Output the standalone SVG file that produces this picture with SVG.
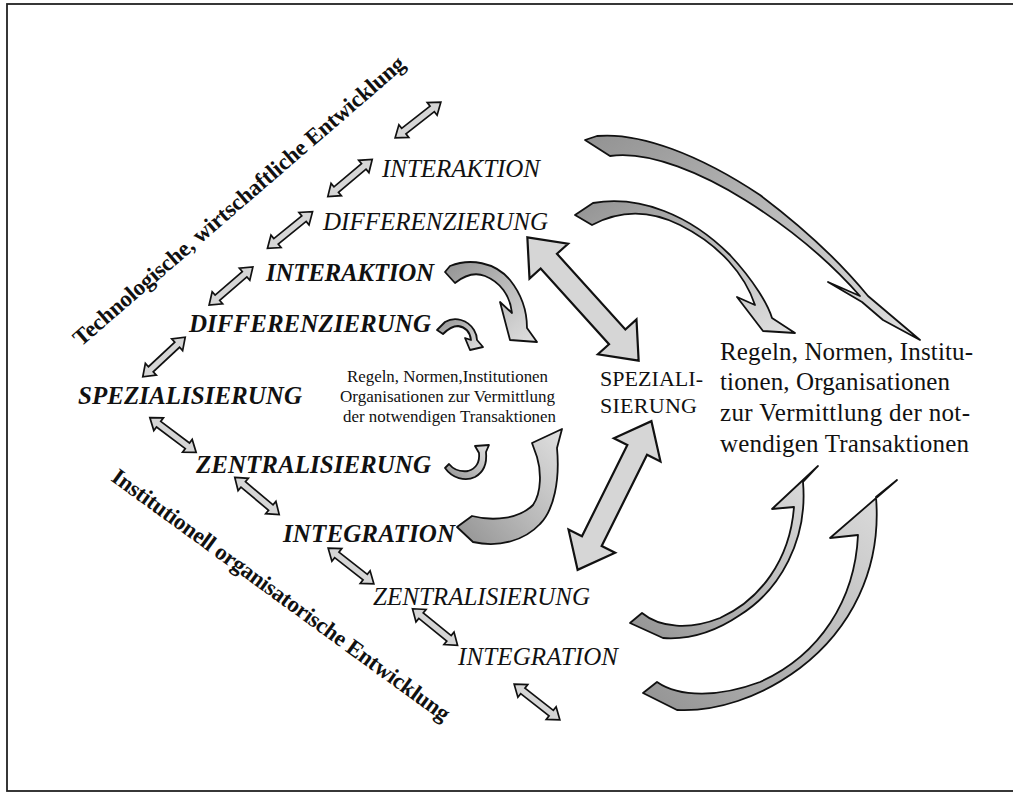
<svg xmlns="http://www.w3.org/2000/svg" width="1013" height="793" viewBox="0 0 1013 793">
<defs>
<style>
.bi{font-family:"Liberation Serif","Times New Roman",serif;font-weight:bold;font-style:italic;font-size:25px;fill:#111}
.it{font-family:"Liberation Serif","Times New Roman",serif;font-style:italic;font-size:25px;fill:#111}
.rg{font-family:"Liberation Serif","Times New Roman",serif;fill:#111}
.rot{font-family:"Liberation Serif","Times New Roman",serif;font-weight:bold;font-size:23px;fill:#111}
.sa{fill:#d6d6d6;stroke:#111;stroke-width:1.7;stroke-linejoin:miter}
.ba{fill:#d6d6d6;stroke:#111;stroke-width:2.2;stroke-linejoin:miter}
.cd{fill:url(#gDown);stroke:#111;stroke-width:1.8;stroke-linejoin:round}
.cu{fill:url(#gUp);stroke:#111;stroke-width:1.8;stroke-linejoin:round}
</style>
<linearGradient id="gDown" x1="0" y1="0" x2="1" y2="1">
<stop offset="0" stop-color="#929292"/><stop offset="0.45" stop-color="#b8b8b8"/><stop offset="1" stop-color="#e0e0e0"/>
</linearGradient>
<linearGradient id="gUp" x1="0" y1="1" x2="1" y2="0">
<stop offset="0" stop-color="#929292"/><stop offset="0.45" stop-color="#b8b8b8"/><stop offset="1" stop-color="#e0e0e0"/>
</linearGradient>
<path id="dbl" d="M -29 0 L -18 -8 L -18 -3.5 L 18 -3.5 L 18 -8 L 29 0 L 18 8 L 18 3.5 L -18 3.5 L -18 8 Z"/>
<path id="big" d="M -83 0 L -51 -26 L -51 -11 L 51 -11 L 51 -26 L 83 0 L 51 26 L 51 11 L -51 11 L -51 26 Z"/>
</defs>
<rect x="0" y="0" width="1013" height="793" fill="#fff"/>
<rect id="frame" x="7" y="4" width="1030" height="787" fill="none" stroke="#222" stroke-width="1.8"/>

<g id="axis-top"><text class="rot" transform="translate(81,347) rotate(-40.8)" textLength="430" lengthAdjust="spacing">Technologische, wirtschaftliche Entwicklung</text></g>
<g id="axis-bottom"><text class="rot" transform="translate(110,480) rotate(36)" textLength="412" lengthAdjust="spacing">Institutionell organisatorische Entwicklung</text></g>

<g id="n-interaktion-b"><text class="bi" x="266" y="281" textLength="168" lengthAdjust="spacing">INTERAKTION</text></g>
<g id="n-differenzierung-b"><text class="bi" x="189" y="332" textLength="242" lengthAdjust="spacing">DIFFERENZIERUNG</text></g>
<g id="n-spezialisierung-b"><text class="bi" x="78" y="404" textLength="224" lengthAdjust="spacing">SPEZIALISIERUNG</text></g>
<g id="n-zentralisierung-b"><text class="bi" x="196" y="473" textLength="235" lengthAdjust="spacing">ZENTRALISIERUNG</text></g>
<g id="n-integration-b"><text class="bi" x="283" y="542" textLength="172" lengthAdjust="spacing">INTEGRATION</text></g>

<g id="n-interaktion-i"><text class="it" x="382" y="177" textLength="158" lengthAdjust="spacing">INTERAKTION</text></g>
<g id="n-differenzierung-i"><text class="it" x="323" y="230" textLength="225" lengthAdjust="spacing">DIFFERENZIERUNG</text></g>
<g id="n-zentralisierung-i"><text class="it" x="373" y="605" textLength="217" lengthAdjust="spacing">ZENTRALISIERUNG</text></g>
<g id="n-integration-i"><text class="it" x="458" y="665" textLength="160" lengthAdjust="spacing">INTEGRATION</text></g>

<g id="n-regeln-small">
<text class="rg" font-size="16.5" x="347" y="382" textLength="201" lengthAdjust="spacingAndGlyphs">Regeln, Normen,Institutionen</text>
<text class="rg" font-size="16.5" x="340" y="402" textLength="215" lengthAdjust="spacingAndGlyphs">Organisationen zur Vermittlung</text>
<text class="rg" font-size="16.5" x="343" y="422" textLength="213" lengthAdjust="spacingAndGlyphs">der notwendigen Transaktionen</text>
</g>
<g id="n-spezialisierung-r">
<text class="rg" font-size="22" x="600" y="386" textLength="103" lengthAdjust="spacing">SPEZIALI-</text>
<text class="rg" font-size="22" x="600" y="413" textLength="97" lengthAdjust="spacing">SIERUNG</text>
</g>
<g id="n-regeln-large">
<text class="rg" font-size="25" x="720" y="360" textLength="253" lengthAdjust="spacing">Regeln, Normen, Institu-</text>
<text class="rg" font-size="25" x="720" y="390" textLength="230" lengthAdjust="spacing">tionen, Organisationen</text>
<text class="rg" font-size="25" x="720" y="421" textLength="250" lengthAdjust="spacing">zur Vermittlung der not-</text>
<text class="rg" font-size="25" x="720" y="452" textLength="249" lengthAdjust="spacing">wendigen Transaktionen</text>
</g>

<g id="connectors">
<use href="#dbl" class="sa" transform="translate(164,357) rotate(-43)"/>
<use href="#dbl" class="sa" transform="translate(231,286) rotate(-41)"/>
<use href="#dbl" class="sa" transform="translate(290,230) rotate(-39)"/>
<use href="#dbl" class="sa" transform="translate(350,178) rotate(-40)"/>
<use href="#dbl" class="sa" transform="translate(418,120) rotate(-38)"/>
<use href="#dbl" class="sa" transform="translate(173,435) rotate(37)"/>
<use href="#dbl" class="sa" transform="translate(257,496) rotate(40)"/>
<use href="#dbl" class="sa" transform="translate(351,566) rotate(38)"/>
<use href="#dbl" class="sa" transform="translate(435,627) rotate(39)"/>
<use href="#dbl" class="sa" transform="translate(537,702) rotate(38)"/>

<use href="#big" class="ba" transform="translate(583,299) rotate(47.9)"/>
<use href="#big" class="ba" transform="translate(614.5,495.5) rotate(-63.6)"/>

<path class="cd" d="M 445,272 L 450,266 C 470,258 495,262 510,280 C 522,295 527,312 527,328 L 537,342 L 510,340 L 500,302 L 512,313 C 510,295 500,282 485,276 C 475,272 465,275 455,283 Z"/>
<path class="cd" d="M 437,330 L 445,322 C 455,316 468,320 474,330 C 477,335 477,338 477,340 L 483,347 L 470,350 L 465,338 L 471,340 C 470,332 465,327 458,326 C 452,326 447,330 443,334 Z"/>
<path class="cu" d="M 445,468 C 452,478 465,482 475,477 C 484,472 487,462 486,452 L 489,445 L 475,446 L 479,453 C 480,462 476,469 468,471 C 460,472 453,469 449,464 Z"/>
<path class="cu" d="M 457,527 L 472,516 C 495,522 520,518 533,505 C 542,492 541,470 537,457 L 532,443 L 562,429 L 557,448 C 560,480 554,510 540,524 C 525,540 500,548 473,542 Z"/>
<path class="cu" d="M 630,623 L 642,613 C 660,628 690,630 720,618 C 760,600 790,560 794,507 L 772,509 L 818,466 L 803,482 C 808,540 780,590 740,615 C 715,632 690,640 663,638 Z"/>
<path class="cu" d="M 643,693 L 657,682 C 680,698 720,697 760,682 C 820,655 855,600 858,535 L 830,538 L 897,480 L 876,497 C 882,570 850,630 800,668 C 760,698 715,712 677,710 Z"/>
<path class="cd" d="M 585,140 L 597,136 C 640,132 700,155 760,195 C 800,225 840,262 868,296 L 920,340 L 883,320 L 862,302 L 828,282 L 860,296 C 830,262 790,228 745,200 C 705,175 650,150 610,156 Z"/>
<path class="cd" d="M 575,215 L 593,203 C 640,195 690,215 730,255 C 755,282 768,305 772,318 L 795,333 L 763,331 L 737,297 L 755,305 C 745,275 720,245 680,225 C 650,210 620,210 592,225 Z"/>
</g>
</svg>
